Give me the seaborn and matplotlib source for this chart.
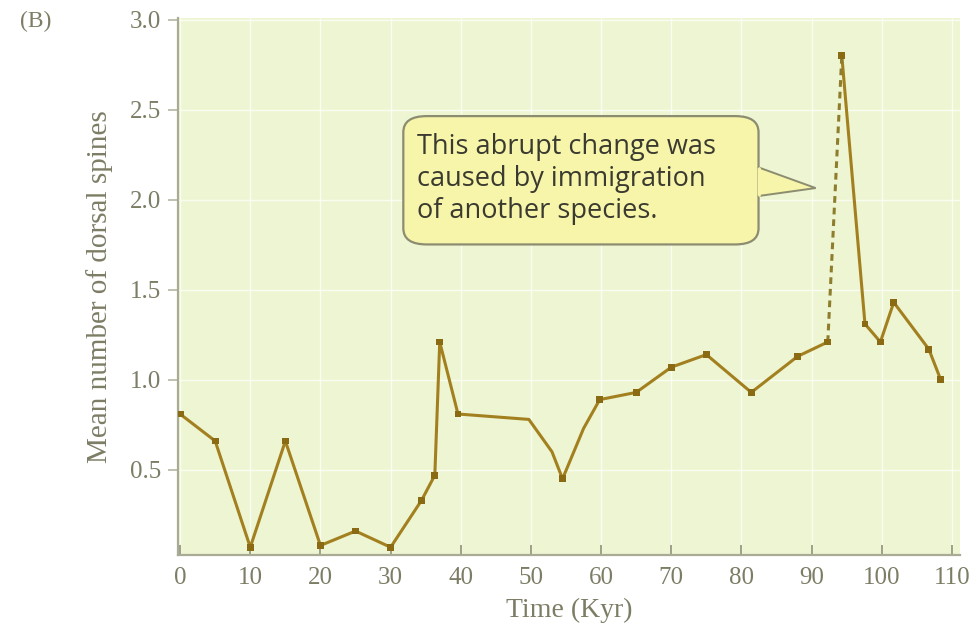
import matplotlib
matplotlib.use("Agg")
import matplotlib.pyplot as plt
import seaborn as sns
import pandas as pd
from matplotlib.patches import FancyBboxPatch, Polygon

# ---- data ----
time_kyr = [0, 5, 10, 15, 20, 25, 30, 34.4, 36.3, 37.0, 39.6, 49.7, 53.0, 54.5,
            57.5, 59.8, 65.0, 70.0, 75.0, 81.4, 88.0, 92.3, 94.3, 97.6, 99.8,
            101.7, 106.7, 108.4]
mean_spines = [0.81, 0.66, 0.07, 0.66, 0.08, 0.16, 0.07, 0.33, 0.47, 1.21, 0.81,
               0.78, 0.60, 0.45, 0.73, 0.89, 0.93, 1.07, 1.14, 0.93, 1.13, 1.21,
               2.80, 1.31, 1.21, 1.43, 1.17, 1.00]
marker_idx = [0, 1, 2, 3, 4, 5, 6, 7, 8, 9, 10, 13, 15, 16, 17, 18, 19, 20, 21,
              22, 23, 24, 25, 26, 27]
dashed_from, dashed_to = 21, 22          # immigration jump drawn dashed
x_ticks = [0, 10, 20, 30, 40, 50, 60, 70, 80, 90, 100, 110]
y_ticks = [0.5, 1.0, 1.5, 2.0, 2.5, 3.0]
y_tick_labels = ["0.5", "1.0", "1.5", "2.0", "2.5", "3.0"]
note_text = "This abrupt change was\ncaused by immigration\nof another species."
panel_label = "(B)"
x_label = "Time (Kyr)"
y_label = "Mean number of dorsal spines"

df = pd.DataFrame({"t": time_kyr, "m": mean_spines})
seg_a = df.iloc[:dashed_from + 1]
seg_b = df.iloc[dashed_from:dashed_to + 1]
seg_c = df.iloc[dashed_to:]
df_mk = df.iloc[marker_idx]

sns.set_theme(style="white")
plt.rcParams["font.family"] = ["Liberation Serif", "DejaVu Serif"]

line_col = "#a3801f"
mk_col = "#8a6a12"
txt_col = "#7d7d66"
bg = "#eef5d2"

fig = plt.figure(figsize=(9.78, 6.37), dpi=100)
ax = fig.add_axes([0.182, 0.129, 0.800, 0.843])
ax.set_facecolor(bg)

sns.lineplot(data=seg_a, x="t", y="m", sort=False, color=line_col, lw=2.2, ax=ax)
sns.lineplot(data=seg_c, x="t", y="m", sort=False, color=line_col, lw=2.2, ax=ax)
sns.lineplot(data=seg_b, x="t", y="m", sort=False, color="#8f7d2e", lw=2.2,
             ax=ax, linestyle=(0, (2.2, 1.6)))
sns.scatterplot(data=df_mk, x="t", y="m", marker="s", s=24, color=mk_col,
                edgecolor="none", ax=ax, zorder=5)

ax.set_xlim(-0.3, 111.2)
ax.set_ylim(0.028, 3.01)
ax.set_xticks(x_ticks)
ax.set_xticklabels([str(v) for v in x_ticks])
ax.set_yticks(y_ticks)
ax.set_yticklabels(y_tick_labels)
ax.grid(True, color="white", lw=1.0, alpha=0.7)
for s in ["top", "right"]:
    ax.spines[s].set_visible(False)
for s in ["left", "bottom"]:
    ax.spines[s].set_color("#a9ab94")
    ax.spines[s].set_linewidth(1.6)
ax.tick_params(axis="x", bottom=True, direction="in", length=7, width=1.2,
               color="#8f907a", labelsize=18, labelcolor=txt_col, pad=9)
ax.tick_params(axis="y", left=True, direction="out", length=7, width=1.2,
               color="#b5b6a2", labelsize=18, labelcolor=txt_col, pad=5)
ax.set_xlabel(x_label, fontsize=20, color=txt_col, labelpad=6)
ax.set_ylabel(y_label, fontsize=21, color=txt_col, labelpad=12)

fig.text(0.02, 0.966, panel_label, fontsize=17, color=txt_col, va="center")

# callout box
box = FancyBboxPatch((0.300, 0.590), 0.430, 0.215,
                     boxstyle="round,pad=0.012,rounding_size=0.03",
                     transform=ax.transAxes, facecolor="#f7f5a9",
                     edgecolor="#8c8c70", lw=1.6, zorder=6)
ax.add_patch(box)
tail = Polygon([(0.741, 0.722), (0.815, 0.683), (0.741, 0.668)],
               closed=False, transform=ax.transAxes, facecolor="#f7f5a9",
               edgecolor="#8c8c70", lw=1.4, zorder=7)
ax.add_patch(tail)
ax.plot([0.7425, 0.7425], [0.67, 0.72], transform=ax.transAxes,
        color="#f7f5a9", lw=2.0, zorder=8)
ax.text(0.305, 0.700, note_text, transform=ax.transAxes, fontsize=19.5,
        family=["Open Sans", "DejaVu Sans"], color="#3a3a30", va="center",
        ha="left", linespacing=1.2, zorder=9)

fig.savefig("out.png", dpi=100)
